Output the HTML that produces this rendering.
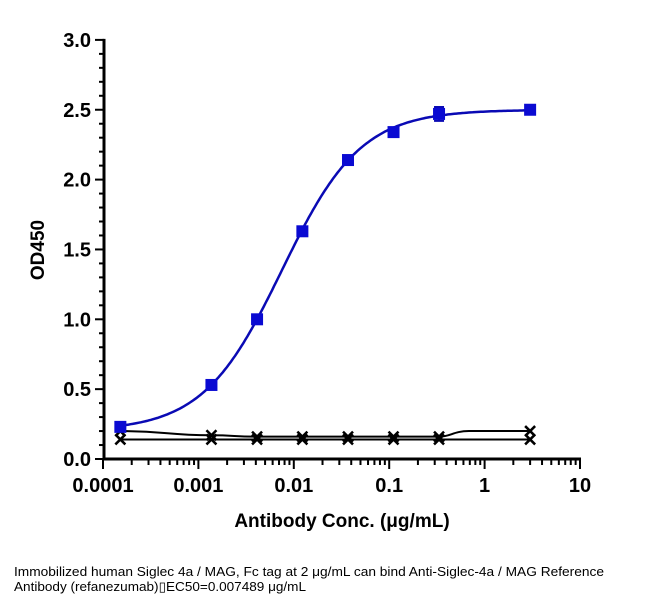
<!DOCTYPE html>
<html><head><meta charset="utf-8"><style>
body{margin:0;background:#fff;}
svg text{font-family:"Liberation Sans",Arial,sans-serif;}
</style></head><body>
<svg width="660" height="604" viewBox="0 0 660 604">
<g id="axes"></g>
<g id="plot"></g>
<text x="0" y="0" transform="translate(44,250) rotate(-90)" text-anchor="middle" font-size="19" font-weight="bold">OD450</text>
<text x="342" y="527" text-anchor="middle" font-size="19" font-weight="bold">Antibody Conc. (μg/mL)</text>
<text x="14" y="576" font-size="13" textLength="590" lengthAdjust="spacingAndGlyphs">Immobilized human Siglec 4a / MAG, Fc tag at 2  μg/mL can bind  Anti-Siglec-4a / MAG Reference</text>
<text x="14" y="591" font-size="13" textLength="292" lengthAdjust="spacingAndGlyphs">Antibody (refanezumab)▯EC50=0.007489 μg/mL</text>
</svg>
<script>
const xConc=[0.000152,0.00137,0.00412,0.0123,0.037,0.111,0.333,3];
const blueY=[0.23,0.53,1.0,1.63,2.14,2.34,2.47,2.50];
const blueErr=[0.01,0.01,0.01,0.01,0.01,0.02,0.05,0.02];
const neg1Y=[0.20,0.17,0.16,0.16,0.16,0.16,0.16,0.20];
const neg2Y=[0.14,0.14,0.14,0.14,0.14,0.14,0.14,0.14];
const yTicks=["0.0","0.5","1.0","1.5","2.0","2.5","3.0"];
const xTicks=["0.0001","0.001","0.01","0.1","1","10"];
const fitBottom=0.2,fitTop=2.5,fitEC50=0.007489,fitHill=1.05;
const NS="http://www.w3.org/2000/svg";
const X=v=>103+(Math.log10(v)+4)*95.4;
const Y=v=>459-v*139.7;
function mk(t,a,p){const e=document.createElementNS(NS,t);for(const k in a)e.setAttribute(k,a[k]);p.appendChild(e);return e;}
const ax=document.getElementById('axes'),pl=document.getElementById('plot');
let l=mk('line',{x1:104,y1:Y(3)-1,x2:104,y2:460,stroke:'#000','stroke-width':3},ax);


l=mk('line',{x1:103,y1:459,x2:581,y2:459,stroke:'#000','stroke-width':3},ax);


for(let i=0;i<=30;i++){const y=Y(i*0.1);const major=i%5==0;
 mk('line',{x1:major?95:99,y1:y,x2:104,y2:y,stroke:'#000','stroke-width':2},ax);}
yTicks.forEach(t=>{const e=mk('text',{x:91,y:Y(+t)+7,'text-anchor':'end','font-size':20,'font-weight':'bold'},ax);e.textContent=t;
 
 });
for(let d=-4;d<1;d++){for(let m=1;m<10;m++){const x=X(m*Math.pow(10,d));
 mk('line',{x1:x,y1:459,x2:x,y2:m==1?469:465,stroke:'#000','stroke-width':2},ax);}}
mk('line',{x1:X(10),y1:459,x2:X(10),y2:469,stroke:'#000','stroke-width':2},ax);
xTicks.forEach(t=>{const e=mk('text',{x:X(+t),y:492,'text-anchor':'middle','font-size':20,'font-weight':'bold'},ax);e.textContent=t;
 
 });
let d='';for(let i=0;i<=200;i++){const lx=Math.log10(xConc[0])+i/200*(Math.log10(xConc[7])-Math.log10(xConc[0]));const c=Math.pow(10,lx);
 const y=fitBottom+(fitTop-fitBottom)/(1+Math.pow(fitEC50/c,fitHill));d+=(i?'L':'M')+X(c).toFixed(1)+','+Y(y).toFixed(1);}
let p=mk('path',{d:d,fill:'none',stroke:'#0a0ab4','stroke-width':2.5},pl);


function smooth(ys){const pts=xConc.map((x,i)=>[X(x),Y(ys[i])]);let s='M'+pts[0][0]+','+pts[0][1];
 for(let i=0;i<pts.length-1;i++){const a=pts[i],b=pts[i+1];
  if(i==pts.length-2){s+=`C${a[0]+12},${a[1]} ${a[0]+14},${b[1]} ${a[0]+30},${b[1]}L${b[0]},${b[1]}`;}
  else{const m=(a[0]+b[0])/2;s+=`C${m},${a[1]} ${m},${b[1]} ${b[0]},${b[1]}`;}}
 return s;}
[[neg1Y,'negative-control-1'],[neg2Y,'negative-control-2']].forEach(([ys,n])=>{
 const q=mk('path',{d:smooth(ys),fill:'none',stroke:'#000','stroke-width':2},pl);
 
 
 xConc.forEach((x,i)=>{const cx=X(x),cy=Y(ys[i]);const g=mk('path',{d:`M${cx-5},${cy-5}L${cx+5},${cy+5}M${cx-5},${cy+5}L${cx+5},${cy-5}`,stroke:'#000','stroke-width':2.5},pl);
 
 });});
xConc.forEach((x,i)=>{const cx=X(x),cy=Y(blueY[i]);
 if(blueErr[i]>0.02){const e=mk('path',{d:`M${cx},${Y(blueY[i]+blueErr[i])}V${Y(blueY[i]-blueErr[i])}M${cx-5},${Y(blueY[i]+blueErr[i])}h10M${cx-5},${Y(blueY[i]-blueErr[i])}h10`,stroke:'#0a0ab4','stroke-width':2},pl);
 
 }
 const r=mk('rect',{x:cx-6,y:cy-6,width:12,height:12,fill:'#0a0ad2'},pl);
 
 });
</script>
</body></html>
